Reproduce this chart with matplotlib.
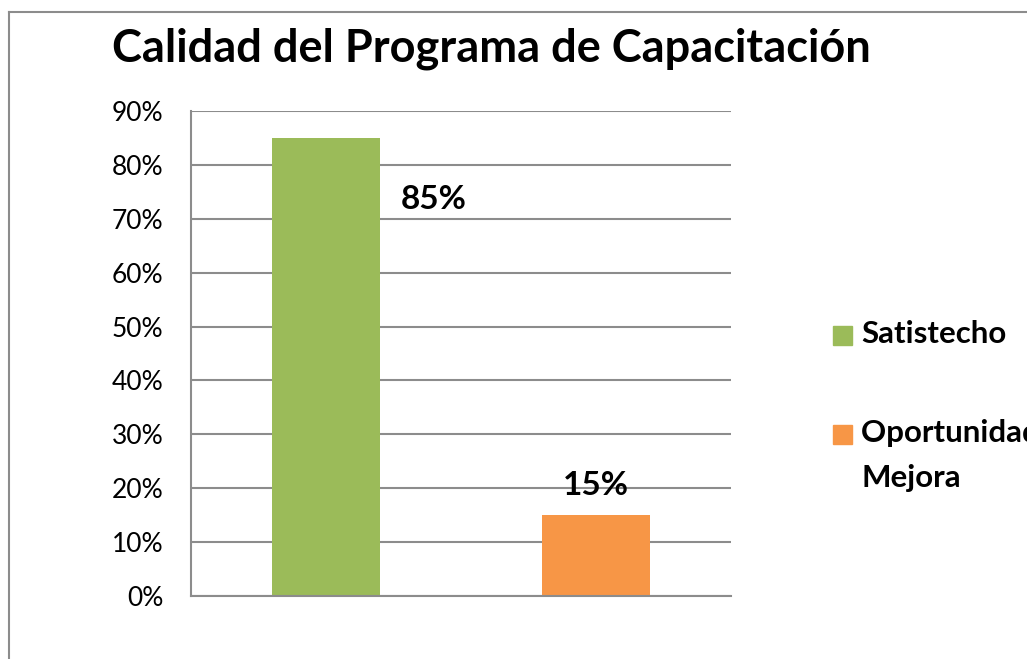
import matplotlib
matplotlib.use("Agg")
import matplotlib.pyplot as plt
from matplotlib.lines import Line2D
from matplotlib.patches import Rectangle

plt.rcParams['font.family'] = ['Lato', 'DejaVu Sans']

title = "Calidad del Programa de Capacitación"
categories = ["Satistecho", "Oportunidad de\nMejora"]
values = [0.85, 0.15]
value_labels = ["85%", "15%"]
colors = ["#9BBB59", "#F79646"]
yticks = [0.0, 0.1, 0.2, 0.3, 0.4, 0.5, 0.6, 0.7, 0.8, 0.9]
ytick_labels = ["0%", "10%", "20%", "30%", "40%", "50%", "60%", "70%", "80%", "90%"]

W, H = 1027, 659
fig = plt.figure(figsize=(W / 100, H / 100), dpi=100)
fig.patch.set_facecolor("white")

# outer chart frame
gray = "#8C8C8C"
fig.add_artist(Line2D([9 / W, 9 / W], [0, 1 - 12 / H], transform=fig.transFigure, color=gray, lw=1.5))
fig.add_artist(Line2D([9 / W, 1], [1 - 12 / H, 1 - 12 / H], transform=fig.transFigure, color=gray, lw=1.5))

ax = fig.add_axes([191 / W, 1 - 596 / H, (731 - 191) / W, (596 - 111) / H])
x = list(range(len(values)))
ax.bar(x, values, width=0.4, color=colors, zorder=2)
ax.set_xlim(-0.5, len(values) - 0.5)
ax.set_ylim(0, 0.9)
ax.set_yticks(yticks)
ax.set_yticklabels(ytick_labels, fontsize=19)
ax.tick_params(axis='y', length=0, pad=20)
ax.set_xticks([])
ax.yaxis.grid(True, color=gray, lw=1.5, zorder=0)
ax.set_axisbelow(True)
for s in ["top", "right"]:
    ax.spines[s].set_visible(False)
for s in ["left", "bottom"]:
    ax.spines[s].set_color(gray)
    ax.spines[s].set_linewidth(1.5)

# data labels
ax.text(x[0] + 0.4, values[0] - 0.115, value_labels[0], ha='center', va='center',
        fontsize=24, fontweight='bold', zorder=3)
ax.text(x[1], values[1] + 0.055, value_labels[1], ha='center', va='center',
        fontsize=24, fontweight='bold', zorder=3)

fig.text(491 / W, 1 - 49 / H, title, ha='center', va='center', fontsize=32.5, fontweight='bold')

# legend
leg_y = [335, 434]
for cat, col, yy in zip(categories, colors, leg_y):
    fig.add_artist(Rectangle((833 / W, 1 - (yy + 9.5) / H), 19 / W, 19 / H,
                             transform=fig.transFigure, color=col))
    fig.text(861 / W, 1 - (yy - 15) / H, cat, ha='left', va='top', fontsize=22.5,
             fontweight='bold', linespacing=1.72)

fig.savefig("out.png", dpi=100)
